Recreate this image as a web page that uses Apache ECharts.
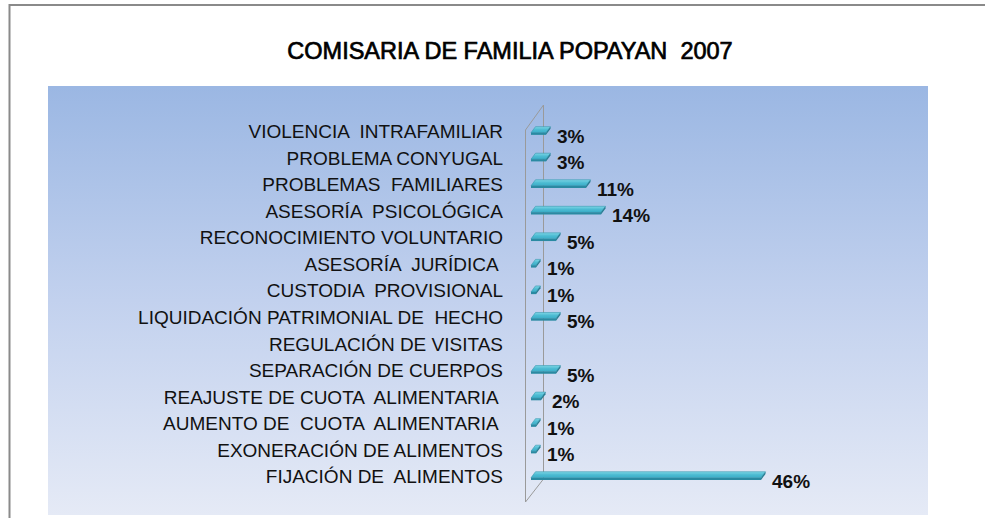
<!DOCTYPE html>
<html>
<head>
<meta charset="utf-8">
<script src="https://cdn.jsdelivr.net/npm/echarts@6/dist/echarts.min.js"></script>
<style>
  html, body { margin: 0; padding: 0; background: #fff; }
  #chart { width: 985px; height: 518px; }
</style>
</head>
<body>
<div id="chart"></div>
<script>
const categories = [
  'VIOLENCIA  INTRAFAMILIAR',
  'PROBLEMA CONYUGAL',
  'PROBLEMAS  FAMILIARES',
  'ASESORÍA  PSICOLÓGICA',
  'RECONOCIMIENTO VOLUNTARIO',
  'ASESORÍA  JURÍDICA ',
  'CUSTODIA  PROVISIONAL',
  'LIQUIDACIÓN PATRIMONIAL DE  HECHO',
  'REGULACIÓN DE VISITAS',
  'SEPARACIÓN DE CUERPOS',
  'REAJUSTE DE CUOTA  ALIMENTARIA ',
  'AUMENTO DE  CUOTA  ALIMENTARIA ',
  'EXONERACIÓN DE ALIMENTOS',
  'FIJACIÓN DE  ALIMENTOS'
];
// porcentajes; REGULACIÓN DE VISITAS no tiene barra
const percents = [3, 3, 11, 14, 5, 1, 1, 5, null, 5, 2, 1, 1, 46];

const chart = echarts.init(document.getElementById('chart'), null, { renderer: 'svg' });

const barTop = new echarts.graphic.LinearGradient(0, 0, 0, 1, [
  { offset: 0, color: '#7dd6e6' },
  { offset: 0.5, color: '#4dbbd2' },
  { offset: 1, color: '#3aaec8' }
]);

function renderBar(params, api) {
  const v = api.value(0);
  if (isNaN(v)) return null;
  const idx = api.value(1);
  const p0 = api.coord([0, idx]);
  const p1 = api.coord([v, idx]);
  const y = p0[1] - 1;
  const x0 = p0[0];
  const x1 = p1[0];
  const s = 4.5; // desplazamiento de profundidad
  return {
    type: 'group',
    children: [
      {
        type: 'polygon',
        shape: { points: [[x0, y + 2], [x0 + s, y - 4], [x1 + s, y - 4], [x1, y + 2]] },
        style: { fill: barTop, stroke: '#3597ae', lineWidth: 0.6 }
      },
      {
        type: 'rect',
        shape: { x: x0, y: y + 2, width: x1 - x0, height: 2.2 },
        style: { fill: '#2a8aa2' }
      },
      {
        type: 'polygon',
        shape: { points: [[x1, y + 2], [x1 + s, y - 4], [x1 + s, y - 1.8], [x1, y + 4.2]] },
        style: { fill: '#267d92' }
      },
      {
        type: 'text',
        style: {
          x: x1 + 11,
          y: y + 5.5,
          text: v + '%',
          fill: '#111',
          font: 'bold 19px "Liberation Sans", Arial, sans-serif',
          verticalAlign: 'middle',
          align: 'left'
        }
      }
    ]
  };
}

const option = {
  animation: false,
  title: {
    text: 'COMISARIA DE FAMILIA POPAYAN  2007',
    left: 505,
    top: 34,
    textAlign: 'center',
    textStyle: {
      fontFamily: 'Liberation Sans',
      fontSize: 23.5,
      fontWeight: 'normal',
      color: '#000',
      textBorderColor: '#000',
      textBorderWidth: 0.7
    }
  },
  graphic: [
    {
      type: 'rect',
      z: -10,
      shape: { x: 48, y: 86, width: 880, height: 429 },
      style: {
        fill: new echarts.graphic.LinearGradient(0, 0, 0, 1, [
          { offset: 0, color: '#9bb7e3' },
          { offset: 0.5, color: '#c2d1ee' },
          { offset: 1, color: '#e5eaf6' }
        ])
      }
    },
    {
      type: 'polyline',
      z: -5,
      shape: { points: [[9.5, 518], [9.5, 5], [985, 5]] },
      style: { stroke: '#8a8a8a', lineWidth: 2, fill: null }
    },
    {
      type: 'polyline',
      z: -5,
      shape: { points: [[525.5, 130], [543.5, 105], [543.5, 479], [525.5, 502], [525.5, 130]] },
      style: { stroke: '#9a9a9a', lineWidth: 1, fill: null }
    }
  ],
  grid: {
    left: 531,
    width: 400,
    top: 118.4,
    height: 371.6
  },
  xAxis: {
    type: 'value',
    min: 0,
    max: 80,
    show: false
  },
  yAxis: {
    type: 'category',
    inverse: true,
    data: categories,
    axisLine: { show: false },
    axisTick: { show: false },
    splitLine: { show: false },
    axisLabel: {
      margin: 28,
      fontFamily: 'Liberation Sans',
      fontSize: 19,
      color: '#111'
    }
  },
  series: [
    {
      type: 'custom',
      renderItem: renderBar,
      encode: { x: 0, y: 1 },
      data: percents.map((v, i) => [v === null ? '-' : v, i])
    }
  ]
};

chart.setOption(option);
</script>
</body>
</html>
